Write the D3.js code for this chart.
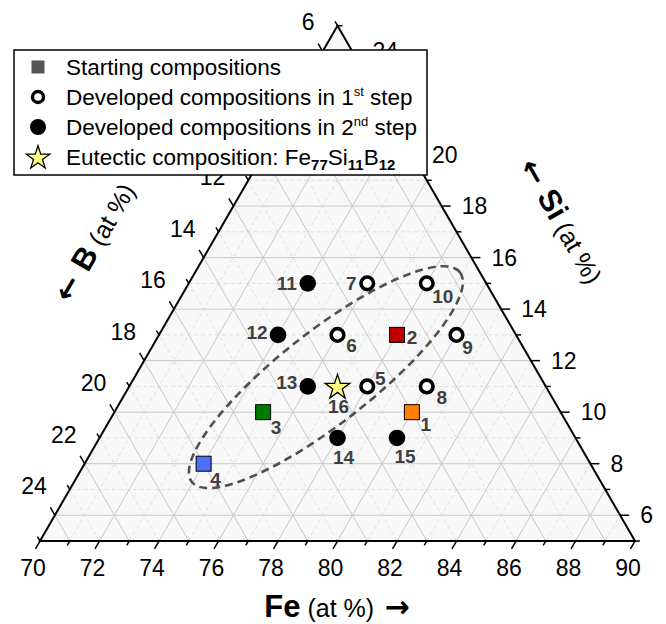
<!DOCTYPE html>
<html>
<head>
<meta charset="utf-8">
<script src="https://cdnjs.cloudflare.com/ajax/libs/d3/7.8.5/d3.min.js"></script>
<style>
  body { margin: 0; background: #fff; }
  text { font-family: Arial, "Liberation Sans", sans-serif; }
</style>
</head>
<body>
<div id="chart"></div>
<script>
// Canvas size
var svgWidth = 666;
var svgHeight = 624;

// Axis ranges (at %)
var feRange = [70, 90];
var siRange = [5, 25];

// Tick values
var feTicks = d3.range(70, 91, 1);
var siTicks = d3.range(5, 26, 1);
var bTicks = d3.range(5, 26, 1);
// tick labels hidden behind the legend in the original
var hiddenSi = [22];
var hiddenB = [8, 10];

// Compositions
var ptLabels = ["1", "2", "3", "4", "5", "6", "7", "8", "9", "10", "11", "12", "13", "14", "15", "16"];
var ptFe = [80, 78, 75, 74, 78, 76, 76, 80, 80, 78, 74, 74, 76, 78, 80, 77];
var ptSi = [10, 13, 10, 8, 11, 13, 15, 11, 13, 15, 15, 13, 11, 9, 9, 11];
var ptType = ["start", "start", "start", "start",
  "step1", "step1", "step1", "step1", "step1", "step1",
  "step2", "step2", "step2", "step2", "step2", "eutectic"];

// Dashed region: two far ends (Fe, Si)
var regionFe = [73.96, 78.9];
var regionSi = [7.29, 15.43];

// Styles
var startColors = {"1": "#ff8000", "2": "#c00000", "3": "#007a00", "4": "#4f6ef7"};
var labelOffset = {
  "1": [14, 12], "2": [15, 2], "3": [13, 15], "4": [12, 15], "5": [13, -8],
  "6": [14, 10], "7": [-16, 0], "8": [15, 11], "9": [11, 12], "10": [16, 13],
  "11": [-21, 0], "12": [-21, -3], "13": [-21, -4], "14": [6, 19], "15": [8, 18], "16": [1, 20]
};

// Triangle geometry
var left = 40, right = 635, bottom = 541;
var side = right - left;
var tHeight = side * Math.sqrt(3) / 2;

var xScale = d3.scaleLinear().domain(feRange).range([left, right]);
var yScale = d3.scaleLinear().domain(siRange).range([bottom, bottom - tHeight]);
var shiftScale = d3.scaleLinear().domain(siRange).range([0, side / 2]);

// (Fe, Si) -> pixel
function project(fe, si) {
  return [xScale(fe) + shiftScale(si), yScale(si)];
}

var svg = d3.select("#chart")
  .append("svg")
  .attr("width", svgWidth)
  .attr("height", svgHeight);

var A = project(70, 5), Bc = project(90, 5), C = project(70, 25);

// Background
svg.append("polygon")
  .attr("points", [A, Bc, C].map(p => p.join(",")).join(" "))
  .attr("fill", "#f8f8f8");

// Grid lines
var grid = svg.append("g");
function gridLine(p1, p2, v) {
  var major = v % 2 === 0;
  grid.append("line")
    .attr("x1", p1[0]).attr("y1", p1[1])
    .attr("x2", p2[0]).attr("y2", p2[1])
    .attr("stroke", major ? "#c8c8c8" : "#d8d8d8")
    .attr("stroke-width", major ? 1 : 0.8)
    .attr("stroke-dasharray", major ? null : "4,3");
}
// Si constant (horizontal)
siTicks.slice(1, -1).forEach(function (s) {
  gridLine(project(70, s), project(95 - s, s), s);
});
// Fe constant (parallel to left edge)
feTicks.slice(1, -1).forEach(function (f) {
  gridLine(project(f, 5), project(f, 95 - f), f);
});
// B constant (parallel to right edge)
bTicks.slice(1, -1).forEach(function (b) {
  gridLine(project(95 - b, 5), project(70, 30 - b), b);
});

// Edges
svg.append("polygon")
  .attr("points", [A, Bc, C].map(p => p.join(",")).join(" "))
  .attr("fill", "none")
  .attr("stroke", "#000")
  .attr("stroke-width", 2);

// Ticks and labels
var axes = svg.append("g");
var s3 = Math.sqrt(3) / 2;
function tick(p, dir, len) {
  axes.append("line")
    .attr("x1", p[0]).attr("y1", p[1])
    .attr("x2", p[0] + dir[0] * len).attr("y2", p[1] + dir[1] * len)
    .attr("stroke", "#000")
    .attr("stroke-width", 1.5);
}
// Fe axis (bottom)
feTicks.forEach(function (f) {
  var p = project(f, 5);
  var major = f % 2 === 0;
  tick(p, [-0.5, s3], major ? 9 : 5);
  if (major) {
    axes.append("text")
      .attr("x", p[0] - 7).attr("y", p[1] + 35)
      .attr("text-anchor", "middle")
      .style("font-size", "23px")
      .text(f);
  }
});
// Si axis (right)
siTicks.forEach(function (s) {
  var p = project(95 - s, s);
  var major = s % 2 === 0;
  tick(p, [1, 0], major ? 9 : 5);
  if (major && hiddenSi.indexOf(s) < 0) {
    axes.append("text")
      .attr("x", p[0] + 20).attr("y", p[1] + 8)
      .style("font-size", "23px")
      .text(s);
  }
});
// B axis (left)
bTicks.forEach(function (b) {
  var p = project(70, 30 - b);
  var major = b % 2 === 0;
  tick(p, [-0.5, -s3], major ? 9 : 5);
  if (major && hiddenB.indexOf(b) < 0) {
    axes.append("text")
      .attr("x", p[0] - 8).attr("y", p[1] - 21)
      .attr("text-anchor", "end")
      .style("font-size", "23px")
      .text(b);
  }
});

// Axis titles
function arrowSpan(t, ch) {
  t.append("tspan")
    .style("font-family", "'DejaVu Sans', sans-serif")
    .style("font-size", "30px")
    .style("font-weight", "bold")
    .text(ch);
}
function axisTitle(x, y, rot, name, arrowFirst) {
  var t = svg.append("text")
    .attr("transform", `translate(${x}, ${y}) rotate(${rot})`)
    .attr("text-anchor", "middle");
  if (arrowFirst) arrowSpan(t, "\u2190 ");
  t.append("tspan").style("font-size", "31px").style("font-weight", "bold").text(name);
  t.append("tspan").style("font-size", "25px").text(" (at %)");
  if (!arrowFirst) arrowSpan(t, " \u2192");
}
axisTitle(337, 617, 0, "Fe", false);
axisTitle(103, 247, -60, "B", true);
axisTitle(553, 226, 60, "Si", true);

// Dashed region
var e1 = project(regionFe[0], regionSi[0]);
var e2 = project(regionFe[1], regionSi[1]);
var ecx = (e1[0] + e2[0]) / 2, ecy = (e1[1] + e2[1]) / 2;
var erx = Math.hypot(e2[0] - e1[0], e2[1] - e1[1]) / 2;
var eang = Math.atan2(e2[1] - e1[1], e2[0] - e1[0]) * 180 / Math.PI;
svg.append("ellipse")
  .attr("transform", `translate(${ecx}, ${ecy}) rotate(${eang})`)
  .attr("rx", erx)
  .attr("ry", 46)
  .attr("fill", "none")
  .attr("stroke", "#505050")
  .attr("stroke-width", 2.6)
  .attr("stroke-dasharray", "8,5");

// Markers
var star = d3.symbol().type(d3.symbolStar).size(190);
var marks = svg.append("g");
ptLabels.forEach(function (lab, i) {
  var p = project(ptFe[i], ptSi[i]);
  var type = ptType[i];
  if (type === "start") {
    marks.append("rect")
      .attr("x", p[0] - 7.5).attr("y", p[1] - 7.5)
      .attr("width", 15).attr("height", 15)
      .attr("fill", startColors[lab])
      .attr("stroke", "#000")
      .attr("stroke-width", 1);
  } else if (type === "step1") {
    marks.append("circle")
      .attr("cx", p[0]).attr("cy", p[1])
      .attr("r", 6.3)
      .attr("fill", "#fff")
      .attr("stroke", "#000")
      .attr("stroke-width", 3.6);
  } else if (type === "step2") {
    marks.append("circle")
      .attr("cx", p[0]).attr("cy", p[1])
      .attr("r", 8.3)
      .attr("fill", "#000");
  } else {
    marks.append("path")
      .attr("d", star)
      .attr("transform", `translate(${p[0]}, ${p[1] + 1})`)
      .attr("fill", "#ffff80")
      .attr("stroke", "#000")
      .attr("stroke-width", 1.3);
  }
  var off = labelOffset[lab];
  marks.append("text")
    .attr("x", p[0] + off[0]).attr("y", p[1] + off[1] + 7)
    .attr("text-anchor", "middle")
    .style("font-size", "19px")
    .style("font-weight", "bold")
    .style("fill", "#404040")
    .text(lab);
});

// Legend
var legend = svg.append("g");
legend.append("rect")
  .attr("x", 14).attr("y", 50)
  .attr("width", 413).attr("height", 125)
  .attr("fill", "#fff")
  .attr("stroke", "#000")
  .attr("stroke-width", 1.5);

var rowY = [67, 97, 127, 157];
var symX = 38, textX = 66;
legend.append("rect")
  .attr("x", symX - 6.5).attr("y", rowY[0] - 6.5)
  .attr("width", 13).attr("height", 13)
  .attr("fill", "#555");
legend.append("circle")
  .attr("cx", symX).attr("cy", rowY[1])
  .attr("r", 5.5).attr("fill", "#fff")
  .attr("stroke", "#000").attr("stroke-width", 3.4);
legend.append("circle")
  .attr("cx", symX).attr("cy", rowY[2])
  .attr("r", 8).attr("fill", "#000");
legend.append("path")
  .attr("d", d3.symbol().type(d3.symbolStar).size(170))
  .attr("transform", `translate(${symX}, ${rowY[3] + 1})`)
  .attr("fill", "#ffff80")
  .attr("stroke", "#000")
  .attr("stroke-width", 1.3);

function legendText(y) {
  return legend.append("text")
    .attr("x", textX).attr("y", y + 8)
    .style("font-size", "22.5px");
}
legendText(rowY[0]).text("Starting compositions");
var l2 = legendText(rowY[1]);
l2.append("tspan").text("Developed compositions in 1");
l2.append("tspan").attr("dy", -9).style("font-size", "13px").text("st");
l2.append("tspan").attr("dy", 9).text(" step");
var l3 = legendText(rowY[2]);
l3.append("tspan").text("Developed compositions in 2");
l3.append("tspan").attr("dy", -9).style("font-size", "13px").text("nd");
l3.append("tspan").attr("dy", 9).text(" step");
var l4 = legendText(rowY[3]);
l4.append("tspan").text("Eutectic composition: Fe");
l4.append("tspan").attr("dy", 5).style("font-size", "15px").style("font-weight", "bold").text("77");
l4.append("tspan").attr("dy", -5).text("Si");
l4.append("tspan").attr("dy", 5).style("font-size", "15px").style("font-weight", "bold").text("11");
l4.append("tspan").attr("dy", -5).text("B");
l4.append("tspan").attr("dy", 5).style("font-size", "15px").style("font-weight", "bold").text("12");
</script>
</body>
</html>
